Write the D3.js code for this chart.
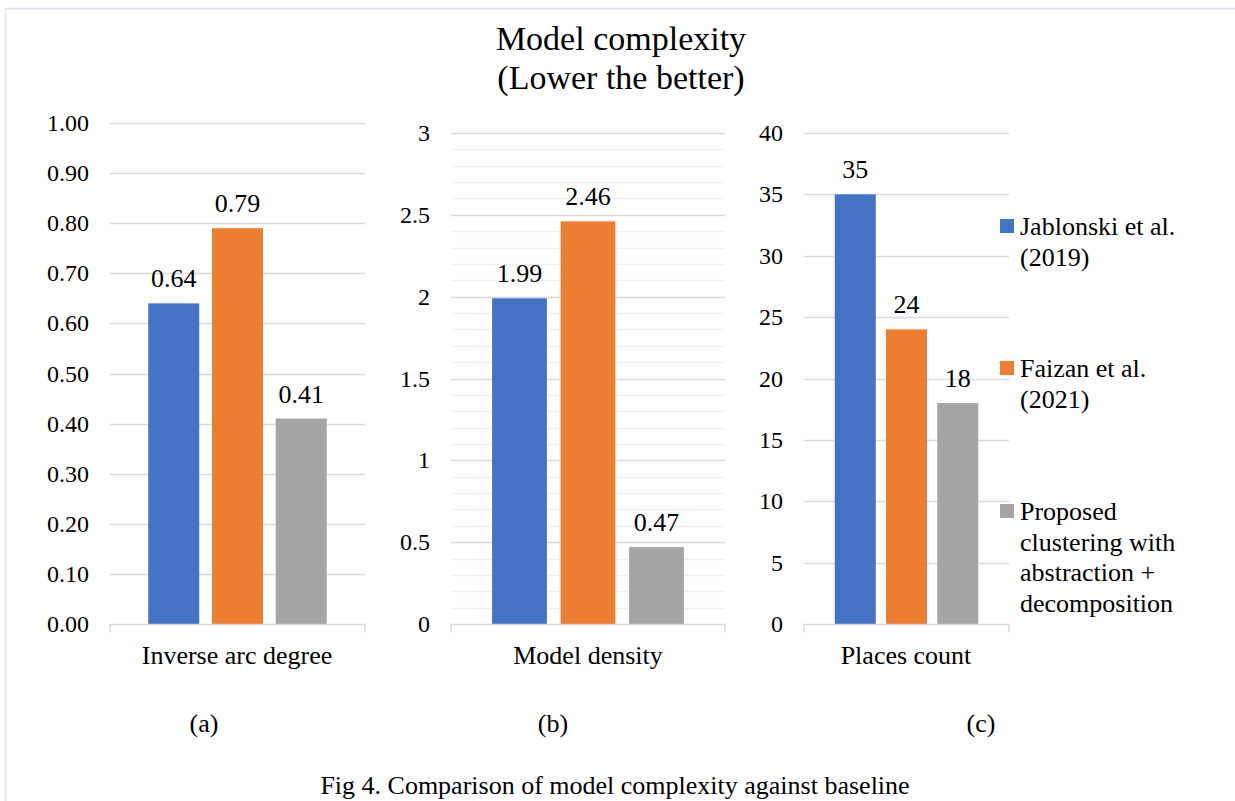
<!DOCTYPE html>
<html>
<head>
<meta charset="utf-8">
<script src="https://cdn.jsdelivr.net/npm/d3@7"></script>
<style>
  html, body { margin: 0; padding: 0; background: #ffffff; }
  svg { display: block; }
  text { font-family: "Liberation Serif", "Times New Roman", serif; fill: #000; }
</style>
</head>
<body>
<svg id="chart" width="1235" height="801"></svg>
<script>
// ---- data ----
const categories = ["Inverse arc degree", "Model density", "Places count"];
const panelLabels = ["(a)", "(b)", "(c)"];
const seriesNames = ["Jablonski et al. (2019)", "Faizan et al. (2021)", "Proposed clustering with abstraction + decomposition"];
const legendLines = [["Jablonski et al.", "(2019)"], ["Faizan et al.", "(2021)"], ["Proposed", "clustering with", "abstraction +", "decomposition"]];
const jablonski = [0.64, 1.99, 35];
const faizan = [0.79, 2.46, 24];
const proposed = [0.41, 0.47, 18];
const ticksA = [0, 0.1, 0.2, 0.3, 0.4, 0.5, 0.6, 0.7, 0.8, 0.9, 1.0];
const ticksB = [0, 0.5, 1, 1.5, 2, 2.5, 3];
const minorTicksB = [0.1, 0.2, 0.3, 0.4, 0.6, 0.7, 0.8, 0.9, 1.1, 1.2, 1.3, 1.4, 1.6, 1.7, 1.8, 1.9, 2.1, 2.2, 2.3, 2.4, 2.6, 2.7, 2.8, 2.9];
const ticksC = [0, 5, 10, 15, 20, 25, 30, 35, 40];
const colors = ["#4472C4", "#ED7D31", "#A5A5A5"];
const title = ["Model complexity", "(Lower the better)"];
const caption = "Fig 4. Comparison of model complexity against baseline";

const seriesValues = [jablonski, faizan, proposed];

// ---- layout ----
const svg = d3.select("#chart");
const yTop = [123, 133, 133];
const yBottom = 624;
const panels = [
  { x0: 110, x1: 365, max: 1.0, ticks: ticksA, minor: [], tickFmt: d3.format(".2f"), labFmt: d3.format(".2f"), labelX: 237, subX: 204 },
  { x0: 451, x1: 725, max: 3, ticks: ticksB, minor: minorTicksB, tickFmt: d => String(d), labFmt: d3.format(".2f"), labelX: 588, subX: 553 },
  { x0: 804, x1: 1009, max: 40, ticks: ticksC, minor: [], tickFmt: d3.format("d"), labFmt: d3.format("d"), labelX: 906, subX: 981 }
];

// border
svg.append("rect").attr("x", 5.5).attr("y", 8.5).attr("width", 1240).attr("height", 800)
  .attr("fill", "none").attr("stroke", "#dde3ee").attr("stroke-width", 1.5);

// title
svg.append("text").attr("x", 621).attr("y", 50).attr("text-anchor", "middle").style("font-size", "34px").text(title[0]);
svg.append("text").attr("x", 621).attr("y", 89).attr("text-anchor", "middle").style("font-size", "34px").text(title[1]);

panels.forEach((p, i) => {
  const g = svg.append("g");
  const y = d3.scaleLinear().domain([0, p.max]).range([yBottom, yTop[i]]);
  const x = d3.scaleBand().domain(seriesNames).range([p.x0, p.x1]).paddingInner(0.2).paddingOuter(0.6);

  // minor gridlines
  g.selectAll(".minor").data(p.minor).join("line")
    .attr("x1", p.x0).attr("x2", p.x1)
    .attr("y1", d => Math.round(y(d)) + 0.5).attr("y2", d => Math.round(y(d)) + 0.5)
    .attr("stroke", "#f0f0f0").attr("stroke-width", 1.5);

  // major gridlines
  g.selectAll(".major").data(p.ticks.filter(d => d > 0)).join("line")
    .attr("x1", p.x0).attr("x2", p.x1)
    .attr("y1", d => Math.round(y(d)) + 0.5).attr("y2", d => Math.round(y(d)) + 0.5)
    .attr("stroke", "#d9d9d9").attr("stroke-width", 1.5);

  // tick labels
  g.selectAll(".tl").data(p.ticks).join("text")
    .attr("x", p.x0 - 21).attr("y", d => y(d) + 8)
    .attr("text-anchor", "end").style("font-size", "24px")
    .text(d => p.tickFmt(d));

  // bars
  seriesNames.forEach((s, k) => {
    const v = seriesValues[k][i];
    g.append("rect").attr("x", x(s)).attr("width", x.bandwidth())
      .attr("y", y(v)).attr("height", yBottom - y(v)).attr("fill", colors[k]);
    g.append("text").attr("x", x(s) + x.bandwidth() / 2).attr("y", y(v) - 16)
      .attr("text-anchor", "middle").style("font-size", "26px").text(p.labFmt(v));
  });

  // category axis
  const axisY = yBottom + 0.5;
  g.append("path")
    .attr("d", `M${p.x0},${axisY + 8}V${axisY}H${p.x1}V${axisY + 8}`)
    .attr("fill", "none").attr("stroke", "#d9d9d9").attr("stroke-width", 1.5);

  g.append("text").attr("x", p.labelX).attr("y", 664).attr("text-anchor", "middle")
    .style("font-size", "26px").text(categories[i]);
  g.append("text").attr("x", p.subX).attr("y", 732).attr("text-anchor", "middle")
    .style("font-size", "26px").text(panelLabels[i]);
});

// legend
const legendTop = [235, 377, 520];
legendLines.forEach((lines, k) => {
  const g = svg.append("g");
  g.append("rect").attr("x", 1000).attr("y", legendTop[k] - 16).attr("width", 14).attr("height", 14).attr("fill", colors[k]);
  lines.forEach((ln, j) => {
    g.append("text").attr("x", 1020).attr("y", legendTop[k] + j * 30.5).style("font-size", "26px").text(ln);
  });
});

// caption
svg.append("text").attr("x", 615).attr("y", 794).attr("text-anchor", "middle").style("font-size", "26px").text(caption);
</script>
</body>
</html>
